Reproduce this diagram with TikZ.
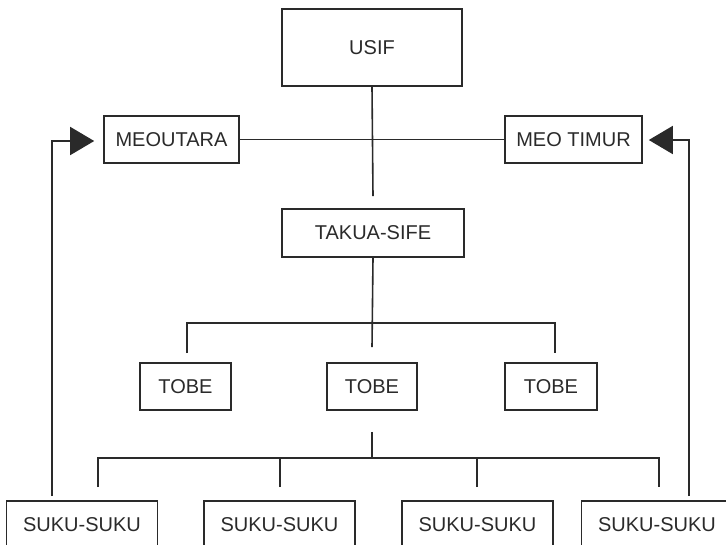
\documentclass[tikz,border=0pt]{standalone}
\usepackage{fontspec}
\setmainfont{Liberation Sans}
\usepackage{tikz}
\usetikzlibrary{
    arrows.meta,
    calc,
    positioning
}
\definecolor{inkgrey}{HTML}{2A2A2A}
\tikzstyle{arrow}=[line width=1.6pt,-{Triangle[length=24pt,width=28pt]},draw=inkgrey]

\begin{document}
\begin{tikzpicture}[
    x=1pt,y=-1pt,
    every node/.style={font=\fontsize{20}{23}\selectfont,text=inkgrey},
    unit/.style={
        rectangle,
        draw=inkgrey,
        line width=1.6pt,
        inner sep=0pt,
        minimum height=47pt,
        align=center
    },
    link/.style={line width=1.6pt,draw=inkgrey}
]
\useasboundingbox (0,0) rectangle (726,544);
% top of the hierarchy
\node[unit,minimum width=180pt,minimum height=77pt] (usif) at (372,47.5) {USIF};
\node[unit,minimum width=135pt] (utara) at (171.5,139.5) {MEOUTARA};
\node[unit,minimum width=137pt] (timur) at (573.5,139.5) {MEO TIMUR};
\node[unit,minimum width=182pt,minimum height=48pt] (takua) at (373,233) {TAKUA-SIFE};
% middle row
\node[unit,minimum width=91pt] (tobe1) at (185.5,386.5) {TOBE};
\node[unit,minimum width=90pt] (tobe2) at (372,386.5) {TOBE};
\node[unit,minimum width=92pt] (tobe3) at (551,386.5) {TOBE};
% bottom row
\node[unit,minimum width=151pt,minimum height=48pt] (suku1) at (82,525) {SUKU-SUKU};
\node[unit,minimum width=151pt,minimum height=48pt] (suku2) at (279.5,525) {SUKU-SUKU};
\node[unit,minimum width=151pt,minimum height=48pt] (suku3) at (477.5,525) {SUKU-SUKU};
\node[unit,minimum width=151pt,minimum height=48pt] (suku4) at (657,525) {SUKU-SUKU};
\coordinate (busA) at (372,323);
\coordinate (busB) at (372,458);
\coordinate (turnL) at (52,141);
\coordinate (turnR) at (689,140);
% connectors
\draw[link] (usif.south) -- ([yshift=12pt]takua.north);
\draw[link] (utara.east) -- (timur.west);
\draw[link] (takua.south) -- ([yshift=15pt]tobe2.north);
\draw[link] ([xshift=1.5pt,yshift=9pt]tobe1.north) |- (busA) -| ([xshift=4pt,yshift=9pt]tobe3.north);
\draw[link] ([yshift=-21pt]tobe2.south) -- (busB);
\draw[link] ([xshift=16pt,yshift=13pt]suku1.north) |- (busB) -| ([xshift=2pt,yshift=13pt]suku4.north);
\draw[link] ([xshift=0.5pt,yshift=13pt]suku2.north) -- ([xshift=0.5pt]suku2.north |- busB);
\draw[link] ([xshift=-0.5pt,yshift=13pt]suku3.north) -- ([xshift=-0.5pt]suku3.north |- busB);
\draw[arrow] ([xshift=-30pt,yshift=4pt]suku1.north) |- (turnL) -- ([xshift=-9pt]utara.west |- turnL);
\draw[arrow] ([xshift=32pt,yshift=4pt]suku4.north) |- (turnR) -- ([xshift=6pt]timur.east |- turnR);
\end{tikzpicture}
\end{document}
